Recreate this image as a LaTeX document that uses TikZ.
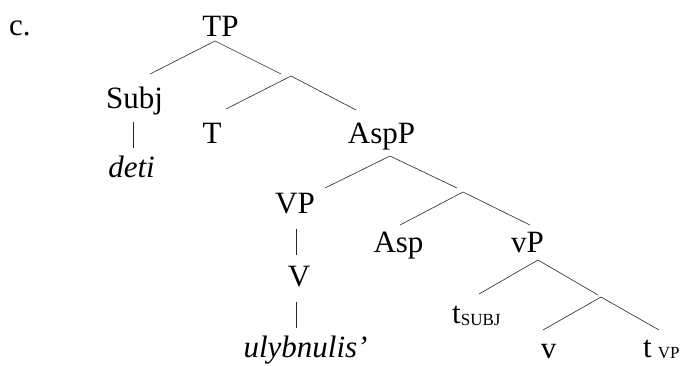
\documentclass[tikz,border=0pt]{standalone}
\usepackage{fontspec}
\setmainfont{Liberation Serif}
\begin{document}
\begin{tikzpicture}[x=1pt,y=-1pt,
  lbl/.style={anchor=base,inner sep=0pt,font=\fontsize{31}{31}\selectfont},
  lblw/.style={anchor=base west,inner sep=0pt,font=\fontsize{31}{31}\selectfont},
  branch/.style={line width=0.6pt,black!85}]
\useasboundingbox (0,0) rectangle (685,365);
\newcommand{\sml}[1]{{\fontsize{17}{17}\selectfont #1}}

% labels
\node[lblw] (ex) at (9,35) {c.};
\node[lbl] (TP) at (220.5,36) {TP};
\node[lbl] (Subj) at (134.5,108) {Subj};
\node[lbl] (deti) at (131.5,177) {\itshape deti};
\node[lbl] (T) at (212,143) {T};
\node[lbl] (AspP) at (381.5,143) {AspP};
\node[lbl] (VP) at (295,213) {VP};
\node[lbl] (Asp) at (398.5,252) {Asp};
\node[lbl] (vP) at (527.5,252) {vP};
\node[lbl] (V) at (299,286) {V};
\node[lbl] (verb) at (305.5,357) {\itshape ulybnulis’};
\node[lblw] (tsubj) at (452,323) {t\raisebox{-2pt}{\sml{SUBJ}}};
\node[lbl] (v) at (548.5,358) {v};
\node[lblw] (tvp) at (643,357) {t\hspace{6pt}\raisebox{-1pt}{\sml{VP}}};

% branch end points
\coordinate (TPd) at (215,41);
\coordinate (SubjU) at (150,74);
\coordinate (TbarU) at (281,74);
\coordinate (Tbar) at (291,76);
\coordinate (TU) at (226,109);
\coordinate (AspPU) at (356,110);
\coordinate (SubjD) at (133,122);
\coordinate (detiU) at (133,148);
\coordinate (AspPd) at (390,156);
\coordinate (VPU) at (325,188);
\coordinate (AspbarU) at (457,188);
\coordinate (Aspbar) at (463,192);
\coordinate (AspU) at (400,225);
\coordinate (vPU) at (530,225);
\coordinate (VPd) at (296,229);
\coordinate (VU) at (296,255);
\coordinate (Vd) at (296,302);
\coordinate (verbU) at (296,328);
\coordinate (vPd) at (538,260);
\coordinate (tsubjU) at (479,294);
\coordinate (vbarU) at (598,295);
\coordinate (vbar) at (601,297);
\coordinate (vU) at (543,330);
\coordinate (tvpU) at (659,330);

% branches
\draw[branch] (SubjU) -- (TPd) -- (TbarU);
\draw[branch] (TU) -- (Tbar) -- (AspPU);
\draw[branch] (SubjD) -- (detiU);
\draw[branch] (VPU) -- (AspPd) -- (AspbarU);
\draw[branch] (AspU) -- (Aspbar) -- (vPU);
\draw[branch] (VPd) -- (VU);
\draw[branch] (Vd) -- (verbU);
\draw[branch] (tsubjU) -- (vPd) -- (vbarU);
\draw[branch] (vU) -- (vbar) -- (tvpU);
\end{tikzpicture}
\end{document}
